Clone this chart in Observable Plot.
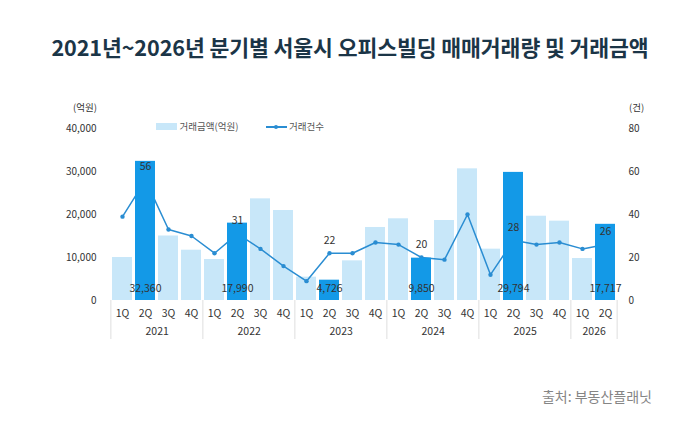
<!DOCTYPE html>
<html><head><meta charset="utf-8">
<script src="https://cdn.jsdelivr.net/npm/d3@7"></script>
<script src="https://cdn.jsdelivr.net/npm/@observablehq/plot@0.6"></script>
<style>
body{margin:0;background:#fff;font-family:'Noto Sans CJK KR',sans-serif;}
#wrap{position:relative;width:700px;height:437px;overflow:hidden;background:#fff}
#chart{position:absolute;left:0;top:0}
#title{position:absolute;left:0;width:700px;top:32px;text-align:center;font-size:21.6px;font-weight:700;color:#1b3547;line-height:30px;letter-spacing:-0.1px}
.unit{position:absolute;top:100px;font-size:9.5px;color:#333;line-height:14px}
.lg{position:absolute;font-size:9.5px;color:#555;line-height:12px}
#source{position:absolute;right:48px;top:386px;font-size:14px;color:#858585;line-height:20px}
</style></head><body>
<div id="wrap">
  <div id="chart"></div>
  <div id="title">2021년~2026년 분기별 서울시 오피스빌딩 매매거래량 및 거래금액</div>
  <div class="unit" style="left:73px">(억원)</div>
  <div class="unit" style="left:629px">(건)</div>
  <div style="position:absolute;left:156px;top:123px;width:21px;height:7px;background:#c8e7f9"></div>
  <div class="lg" style="left:179.5px;top:120px">거래금액(억원)</div>
  <div style="position:absolute;left:266px;top:126px;width:21px;height:1.5px;background:#2a8dd2"></div>
  <div style="position:absolute;left:274px;top:124.6px;width:4.4px;height:4.4px;border-radius:50%;background:#2a8dd2"></div>
  <div class="lg" style="left:289px;top:120px">거래건수</div>
  <div id="source">출처: 부동산플래닛</div>
</div>
<script>
const years = ["2021","2022","2023","2024","2025","2026"];
const quarterLabels = ["1Q","2Q","3Q","4Q"];
const periodYear = ["2021","2021","2021","2021","2022","2022","2022","2022","2023","2023","2023","2023","2024","2024","2024","2024","2025","2025","2025","2025","2026","2026"];
const periodQuarter = ["1Q","2Q","3Q","4Q","1Q","2Q","3Q","4Q","1Q","2Q","3Q","4Q","1Q","2Q","3Q","4Q","1Q","2Q","3Q","4Q","1Q","2Q"];
const amount = [10000, 32360, 15000, 11700, 9530, 17990, 23640, 20930, 5430, 4726, 9220, 16980, 19000, 9850, 18600, 30620, 11940, 29794, 19600, 18450, 9770, 17717];
const count = [39, 56, 33, 30, 22, 31, 24, 16, 9, 22, 22, 27, 26, 20, 19, 40, 12, 28, 26, 27, 24, 26];
const amountTicks = [0, 10000, 20000, 30000, 40000];
const countMax = 80, amountMax = 40000;
const ratio = amountMax / countMax;

const rows = periodYear.map((y, i) => ({
  key: y + "-" + periodQuarter[i], year: y, q: periodQuarter[i],
  amount: amount[i], count: count[i], hi: periodQuarter[i] === "2Q"
}));
const light = rows.filter(d => !d.hi);
const dark = rows.filter(d => d.hi);

const W = 700, H = 437, mL = 107, mR = 81, mT = 128, mB = 137;
const pIn = 0.14, pOut = 0.07;
const step = (W - mL - mR) / (rows.length - pIn + 2 * pOut);

const yearRows = years.map(y => {
  const qs = rows.filter(d => d.year === y);
  const mid = qs[Math.floor((qs.length - 1) / 2)];
  return {year: y, key: mid.key, even: qs.length % 2 === 0};
});
const firstRows = years.map(y => rows.find(d => d.year === y));
const lastRow = rows[rows.length - 1];

const LIGHT = "#c8e7f9", DARK = "#1399e7", LINE = "#2a8dd2";

const chart = Plot.plot({
  width: W, height: H,
  marginLeft: mL, marginRight: mR, marginTop: mT, marginBottom: mB,
  style: {fontFamily: "'Noto Sans CJK KR', sans-serif", fontSize: "10px", color: "#333", background: "transparent"},
  x: {type: "band", domain: rows.map(d => d.key), paddingInner: pIn, paddingOuter: pOut, axis: null},
  y: {domain: [0, amountMax], axis: null},
  marks: [
    Plot.barY(light, {x: "key", y: "amount", fill: LIGHT}),
    Plot.line(rows, {x: "key", y: d => d.count * ratio, stroke: LINE, strokeWidth: 1.5}),
    Plot.dot(rows, {x: "key", y: d => d.count * ratio, r: 2.2, fill: LINE}),
    Plot.barY(dark, {x: "key", y: "amount", fill: DARK}),
    Plot.text(dark, {x: "key", y: d => d.count * ratio, text: d => String(d.count), dy: -13, fontSize: 10.5, fill: "#333"}),
    Plot.text(dark, {x: "key", y: d => 0, text: d => d3.format(",")(d.amount), dy: -12, fontSize: 10.5, fill: "#333"}),
    Plot.axisY({ticks: amountTicks, tickFormat: d3.format(","), tickSize: 0, tickPadding: 11, label: null, fontSize: 10}),
    Plot.axisY({anchor: "right", ticks: amountTicks, tickFormat: d => String(d / ratio), tickSize: 0, tickPadding: 9, label: null, fontSize: 10}),
    Plot.axisX({tickFormat: k => k.split("-")[1], tickSize: 0, tickPadding: 9, label: null, fontSize: 10.5}),
    Plot.text(yearRows.filter(d => d.even), {x: "key", text: "year", frameAnchor: "bottom", dx: step / 2, dy: 34.5, fontSize: 10.5, fill: "#333"}),
    Plot.ruleX(firstRows, {x: "key", y1: d => 0, y2: d => 0, dx: -step / 2, insetBottom: -39, stroke: "#dedede", strokeWidth: 1}),
    Plot.ruleX([lastRow], {x: "key", y1: d => 0, y2: d => 0, dx: step / 2, insetBottom: -39, stroke: "#dedede", strokeWidth: 1})
  ]
});
document.getElementById("chart").appendChild(chart);
</script>
</body></html>
